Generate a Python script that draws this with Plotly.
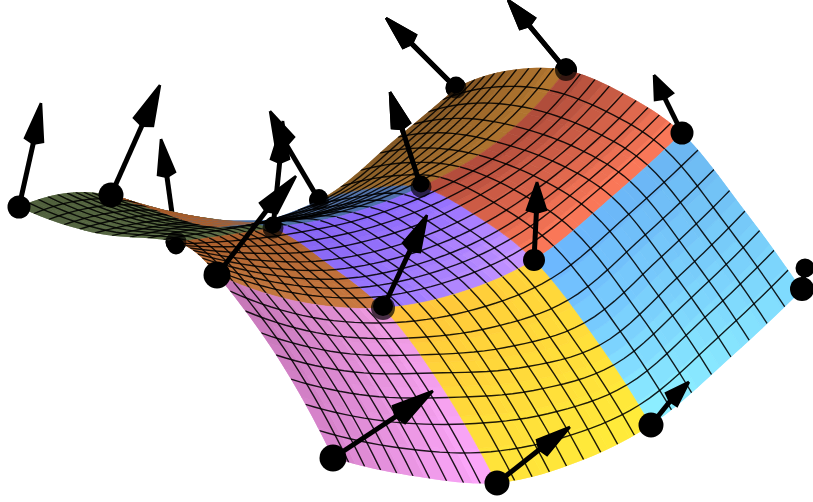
import plotly.graph_objects as go

# surface net: a runs along rows, b from the front row to the back row
a_vals = [0, 0.5, 1, 1.5, 2, 2.5, 3]
b_vals = [0, 0.5, 1, 1.5, 2, 2.5, 3]
net_x = [
    [333, 413, 497, 575, 651, 731, 802],
    [276, 354, 433, 519, 600, 677, 745],
    [217, 300, 383, 462, 534, 612, 682],
    [195, 265, 330, 406, 480, 559, 630],
    [176, 230, 273, 345, 421, 497, 566],
    [95, 146, 190, 281, 372, 446, 505],
    [19, 67, 111, 218, 319, 398, 456],
]
net_y = [
    [458, 476, 483, 463, 425, 357, 290],
    [355, 372, 373, 368, 345, 278, 211],
    [275, 302, 308, 292, 260, 197, 133],
    [252, 264, 265, 249, 218, 164, 97],
    [242, 235, 228, 215, 187, 142, 70],
    [233, 222, 218, 221, 188, 133, 71],
    [207, 193, 195, 227, 200, 137, 88],
]

# coloured regions, back to front: a range, b range, corner colours
# (a low b low, a high b low, a low b high, a high b high)
patch_a0 = [0, 1, 2, 1, 1, 0, 1, 2, 0, 1, 2]
patch_a1 = [1, 2, 3, 1.25, 1.5, 1, 2, 3, 1, 2, 3]
patch_b0 = [2, 2, 2, 2.5, 2.5, 1, 1, 1, 0, 0, 0]
patch_b1 = [3, 3, 3, 3, 3, 2, 2, 2, 1, 1, 1]
patch_colors = [
    ["#5e6e48", "#5a6c42", "#4e5e3c", "#56663e"],
    ["#4a70a0", "#5070b0", "#506a90", "#5878a8"],
    ["#a87030", "#b87a30", "#8a6028", "#7a4e20"],
    ["#56663e", "#56663e", "#56663e", "#56663e"],
    ["#a85a28", "#a86030", "#a85a28", "#a86030"],
    ["#c07840", "#cc7a40", "#a85a28", "#a86030"],
    ["#9a78ff", "#cc99ff", "#8060f0", "#8a68ff"],
    ["#ff7a5a", "#ff7a5a", "#b04a3a", "#a84a38"],
    ["#d884cc", "#ffaaff", "#bf72b0", "#ee9ae0"],
    ["#ffe53a", "#ffee3a", "#ffbf3a", "#ffd43a"],
    ["#90f4ff", "#80dcff", "#6ab4ff", "#6ab4f0"],
]
a_cells_by_column = [10, 9, 8]
b_cells_by_row = [8, 9, 10]
shade_steps = 7

# control points and arrows
dot_x = [176, 273, 319, 19, 111, 217, 421, 456, 566, 682, 534, 383, 333, 497, 651, 802]
dot_y = [242, 228, 200, 207, 195, 275, 187, 88, 70, 133, 260, 308, 458, 483, 425, 289]
dot_d = [21, 21, 20, 23, 25, 27, 21, 21, 22, 23, 22, 24, 27, 25, 25, 24]
tip_x = [161, 283, 270, 41, 160, 296, 390, 386, 508, 654, 537, 427, 433, 570, 689, 805]
tip_y = [139, 121, 111, 103, 85, 176, 92, 18, 0, 75, 182, 215, 391, 427, 382, 268]
left_x = [158, 271, 276, 25, 134, 260, 392, 403, 520, 655, 527, 403, 393, 537, 666, 800]
left_y = [175, 159, 148, 138, 118, 203, 128, 48, 29, 100, 210, 243, 406, 440, 393, 262]
right_x = [175, 289, 294, 43, 153, 277, 410, 416, 535, 673, 546, 420, 405, 547, 677, 810]
right_y = [172, 159, 137, 142, 126, 213, 123, 35, 18, 93, 210, 252, 423, 455, 406, 274]
blob_x = [805]
blob_y = [268]
blob_d = [19]
behind_count = 3
tinted = [0, 1, 2, 6, 7, 8, 11]
cap_dy = [4, -3, -3, -3, -3, -3, -2]


def mix(c1, c2, t):
    p = [int(c1[i:i + 2], 16) for i in (1, 3, 5)]
    q = [int(c2[i:i + 2], 16) for i in (1, 3, 5)]
    return [p[i] + (q[i] - p[i]) * t for i in range(3)]


def cell_color(cs, s, t):
    lo = mix(cs[0], cs[1], s)
    hi = mix(cs[2], cs[3], s)
    v = [lo[i] + (hi[i] - lo[i]) * t for i in range(3)]
    return "rgb(%d,%d,%d)" % tuple(round(x) for x in v)


def span(start, n):
    return [start + i / n for i in range(n + 1)]


fig = go.Figure()


def add_arrows(idx, ax, ay, dots=True):
    for i in idx:
        mx = (left_x[i] + right_x[i]) / 2
        my = (left_y[i] + right_y[i]) / 2
        bx = mx + (mx - tip_x[i]) * 0.1
        by = my + (my - tip_y[i]) * 0.1
        fig.add_trace(go.Scatter(x=[dot_x[i], mx], y=[dot_y[i], my], mode="lines",
                                 line=dict(color="black", width=5), xaxis=ax, yaxis=ay,
                                 hoverinfo="skip"))
        fig.add_trace(go.Scatter(x=[tip_x[i], left_x[i], bx, right_x[i], tip_x[i]],
                                 y=[tip_y[i], left_y[i], by, right_y[i], tip_y[i]],
                                 mode="lines", fill="toself", fillcolor="black",
                                 line=dict(color="black", width=2.5), xaxis=ax, yaxis=ay,
                                 hoverinfo="skip"))
    if dots:
        fig.add_trace(go.Scatter(x=[dot_x[i] for i in idx], y=[dot_y[i] for i in idx], mode="markers",
                                 marker=dict(color="black", opacity=1, line=dict(width=0),
                                             size=[dot_d[i] for i in idx]),
                                 xaxis=ax, yaxis=ay, hoverinfo="skip"))


add_arrows(range(behind_count), "x", "y")
add_arrows([i for i in tinted if i >= behind_count], "x", "y")

hidden = dict(showgrid=False, showline=False, showticklabels="none", startline=False, endline=False,
              minorgridcount=0, smoothing=1, tickmode="array", tickvals=[])
fig.add_trace(go.Carpet(carpet="net", a=a_vals, b=b_vals, x=net_x, y=net_y,
                        aaxis=hidden, baxis=hidden, xaxis="x2", yaxis="y2"))

mesh_line = dict(color="rgba(0,0,0,0.88)", width=1.4)
for row in (2, 1, 0):
    for a0p, a1p, b0p, b1p, cs in zip(patch_a0, patch_a1, patch_b0, patch_b1, patch_colors):
        if not row <= b0p < row + 1:
            continue
        da, db = (a1p - a0p) / shade_steps, (b1p - b0p) / shade_steps
        for i in range(shade_steps):
            for j in range(shade_steps):
                a0, a1 = a0p + i * da, a0p + (i + 1) * da
                b0, b1 = b0p + j * db, b0p + (j + 1) * db
                ring_a, ring_b = [], []
                for k in range(3):
                    t = k / 3
                    ring_a += [a0 + (a1 - a0) * t]
                    ring_b += [b0]
                for k in range(3):
                    t = k / 3
                    ring_a += [a1]
                    ring_b += [b0 + (b1 - b0) * t]
                for k in range(3):
                    t = k / 3
                    ring_a += [a1 - (a1 - a0) * t]
                    ring_b += [b1]
                for k in range(4):
                    t = k / 3
                    ring_a += [a0]
                    ring_b += [b1 - (b1 - b0) * t]
                col = cell_color(cs, (i + 0.5) / shade_steps, (j + 0.5) / shade_steps)
                fig.add_trace(go.Scattercarpet(carpet="net", a=ring_a, b=ring_b, mode="lines",
                                               fill="toself", fillcolor=col,
                                               line=dict(color=col, width=0.7), hoverinfo="skip"))
    for col_i in range(3):
        na = a_cells_by_column[col_i]
        nb = b_cells_by_row[row]
        for n in range(1, na):
            bs = span(row, 16)
            fig.add_trace(go.Scattercarpet(carpet="net", a=[col_i + n / na] * len(bs), b=bs, mode="lines",
                                           line=mesh_line, hoverinfo="skip"))
        for n in range(1, nb):
            az = span(col_i, 16)
            fig.add_trace(go.Scattercarpet(carpet="net", a=az, b=[row + n / nb] * len(az), mode="lines",
                                           line=mesh_line, hoverinfo="skip"))

# dots partly sunk behind the translucent surface: a tinted disc with an opaque cap on the clear side
fig.add_trace(go.Scatter(x=[dot_x[i] for i in tinted], y=[dot_y[i] for i in tinted], mode="markers",
                         marker=dict(color="black", opacity=0.7, line=dict(width=0),
                                     size=[dot_d[i] for i in tinted]),
                         xaxis="x3", yaxis="y3", hoverinfo="skip"))
fig.add_trace(go.Scatter(x=[dot_x[i] for i in tinted],
                         y=[dot_y[i] + d for i, d in zip(tinted, cap_dy)], mode="markers",
                         marker=dict(color="black", opacity=1, line=dict(width=0),
                                     size=[dot_d[i] - 4 for i in tinted]),
                         xaxis="x3", yaxis="y3", hoverinfo="skip"))
add_arrows([i for i in range(behind_count, len(dot_x)) if i not in tinted], "x3", "y3")
# shafts and heads in front of the surface for the sunk dots
add_arrows([i for i in tinted if i >= behind_count], "x3", "y3", dots=False)
fig.add_trace(go.Scatter(x=blob_x, y=blob_y, mode="markers",
                         marker=dict(color="black", opacity=1, line=dict(width=0), size=blob_d),
                         xaxis="x3", yaxis="y3", hoverinfo="skip"))

ax = dict(range=[0, 813], visible=False, domain=[0, 1], fixedrange=True)
ay = dict(range=[502, 0], visible=False, domain=[0, 1], fixedrange=True)
fig.update_layout(
    width=813, height=502, autosize=False, margin=dict(l=0, r=0, t=0, b=0),
    paper_bgcolor="white", plot_bgcolor="white", showlegend=False,
    xaxis=ax, yaxis=ay,
    xaxis2=dict(ax, overlaying="x"), yaxis2=dict(ay, overlaying="y"),
    xaxis3=dict(ax, overlaying="x"), yaxis3=dict(ay, overlaying="y"),
)
fig.write_html("out.html", config=dict(displayModeBar=False),
               post_script="document.body.style.margin='0';")
